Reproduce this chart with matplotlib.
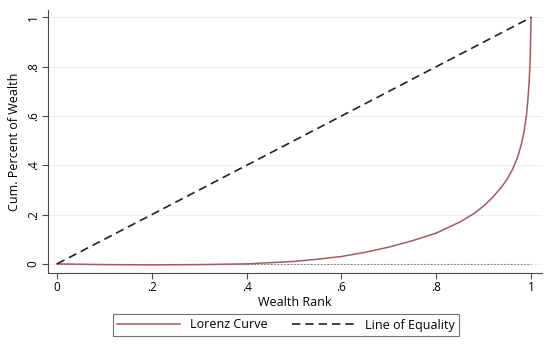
import matplotlib
matplotlib.use("Agg")
from matplotlib import pyplot as plt

# Lorenz curve
rank = [0, 0.1, 0.2, 0.3, 0.4, 0.5, 0.55, 0.6, 0.65, 0.7, 0.75, 0.8, 0.85,
        0.88, 0.9, 0.92, 0.94, 0.95, 0.96, 0.97, 0.975, 0.98, 0.985, 0.99,
        0.993, 0.996, 0.998, 1.0]
wealth = [0, -0.003, -0.004, -0.003, 0.0, 0.01, 0.019, 0.03, 0.047, 0.068,
          0.094, 0.125, 0.17, 0.205, 0.235, 0.272, 0.318, 0.345, 0.38, 0.425,
          0.455, 0.49, 0.535, 0.6, 0.66, 0.74, 0.83, 1.0]

equality = [0, 1]
zero_x = [0, 1]
zero_y = [0, 0]

xticks = [0, 0.2, 0.4, 0.6, 0.8, 1.0]
xlabels = ["0", ".2", ".4", ".6", ".8", "1"]
yticks = [0, 0.2, 0.4, 0.6, 0.8, 1.0]
ylabels = ["0", ".2", ".4", ".6", ".8", "1"]

plt.rcParams['font.family'] = ['Open Sans', 'DejaVu Sans']

fig = plt.figure(figsize=(5.5, 3.49), dpi=100)
ax = fig.add_axes([48 / 550, 1 - 273 / 349, 494 / 550, 263 / 349])

ax.plot(zero_x, zero_y, linestyle=(0, (1.5, 1.5)), color='0.5', lw=0.8, zorder=2)
ln1, = ax.plot(rank, wealth, color='#a35a62', lw=1.1, label='Lorenz Curve', zorder=3)
ln2, = ax.plot(equality, equality, linestyle=(0, (5, 3)), color='#222222', lw=1.2,
               label='Line of Equality', zorder=3)

ax.set_xlim(-0.019, 1.023)
ax.set_ylim(-0.037, 1.03)
ax.set_xticks(xticks)
ax.set_xticklabels(xlabels)
ax.set_yticks(yticks)
ax.set_yticklabels(ylabels, rotation=90, va='center')
ax.tick_params(labelsize=8.5, length=4, color='0.3', width=0.8, pad=2)
ax.grid(axis='y', color='#eeeeee', lw=0.8)
ax.set_axisbelow(True)
for s in ['top', 'right']:
    ax.spines[s].set_visible(False)
for s in ['left', 'bottom']:
    ax.spines[s].set_color('0.3')
    ax.spines[s].set_linewidth(0.8)

ax.set_xlabel('Wealth Rank', fontsize=9, labelpad=1)
ax.set_ylabel('Cum. Percent of Wealth', fontsize=9, labelpad=4)

leg = fig.legend(handles=[ln1, ln2], loc='center', bbox_to_anchor=(286 / 550, 1 - 325 / 349),
                 ncol=2, fontsize=9, frameon=True, fancybox=False, edgecolor='0.3',
                 handlelength=5, columnspacing=2.0, borderpad=0.35, handletextpad=0.8)
leg.get_frame().set_linewidth(0.8)

fig.savefig('out.png', dpi=100)
